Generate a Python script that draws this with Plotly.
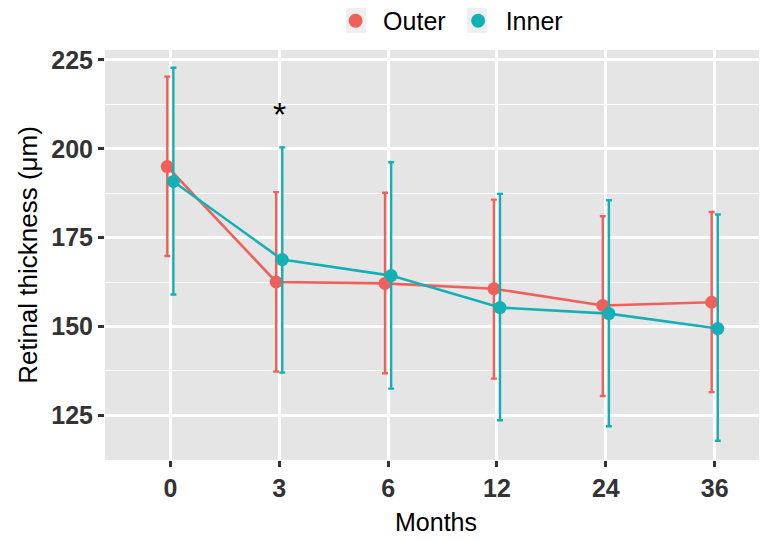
import plotly.graph_objects as go

months = ["0", "3", "6", "12", "24", "36"]
outer_mean = [195.0, 162.5, 162.1, 160.6, 155.9, 156.8]
outer_upper = [220.3, 187.8, 187.6, 185.7, 181.0, 182.2]
outer_lower = [169.8, 137.3, 136.8, 135.3, 130.4, 131.5]
inner_mean = [190.8, 168.8, 164.3, 155.3, 153.6, 149.4]
inner_upper = [222.8, 200.4, 196.2, 187.3, 185.5, 181.5]
inner_lower = [159.0, 137.0, 132.5, 123.6, 121.9, 117.8]
sig_month = "3"
sig_label = "*"
sig_y = 210.5

RED = "#F0605A"
TEAL = "#13B1B5"
DODGE = 0.028

# figure geometry (page has an 8px body margin)
W, H = 759, 533
ML, MR, MT, MB = 97, 0, 42, 81
PW, PH = W - ML - MR, H - MT - MB

idx = list(range(len(months)))

def series(name, mean, up, lo, color, off):
    xs = [i + off for i in idx]
    return go.Scatter(
        x=xs, y=mean, name=name, mode="lines+markers", showlegend=False,
        line=dict(color=color, width=2.6),
        marker=dict(color=color, size=13),
        error_y=dict(type="data", symmetric=False,
                     array=[u - m for u, m in zip(up, mean)],
                     arrayminus=[m - l for m, l in zip(mean, lo)],
                     color=color, thickness=2.4, width=3),
    )

fig = go.Figure()
fig.add_trace(series("Outer", outer_mean, outer_upper, outer_lower, RED, -DODGE))
fig.add_trace(series("Inner", inner_mean, inner_upper, inner_lower, TEAL, DODGE))
for name, color in [("Outer", RED), ("Inner", TEAL)]:
    fig.add_trace(go.Scatter(x=[None], y=[None], name=name, mode="markers",
                             marker=dict(color=color, size=14)))

fig.add_annotation(x=months.index(sig_month), y=sig_y, text=sig_label, showarrow=False,
                   font=dict(size=34, color="black", family="Liberation Sans, Arial"), yshift=-3)

# legend key backgrounds (ggplot style), figure px -> paper
for cx in [348, 469]:
    fig.add_shape(type="rect", xref="paper", yref="paper",
                  x0=(cx - 10 - ML) / PW, x1=(cx + 10 - ML) / PW,
                  y0=(MT + PH - 0) / PH, y1=(MT + PH - 25) / PH,
                  fillcolor="#EFEFEF", line=dict(width=0), layer="below")

tick_font = dict(family="Liberation Sans, Arial", size=25, color="#333333", weight="bold")
fig.update_layout(
    width=W, height=H,
    margin=dict(l=ML, r=MR, t=MT, b=MB, autoexpand=False),
    paper_bgcolor="white", plot_bgcolor="#E5E5E5",
    font=dict(family="Liberation Sans, Arial", color="black"),
    showlegend=True,
    legend=dict(orientation="h", xref="paper", yref="paper",
                x=0.337, y=1.127, xanchor="left", yanchor="top",
                font=dict(size=25, color="black"), itemwidth=45,
                bgcolor="rgba(0,0,0,0)"),
    xaxis=dict(range=[-0.6, 5.48], tickmode="array", tickvals=idx, ticktext=months,
               automargin=False,
               showgrid=True, gridcolor="white", gridwidth=2.6, zeroline=False,
               ticks="outside", ticklen=6, tickwidth=2.5, tickcolor="#333333",
               tickfont=tick_font,
               title=dict(text="Months", font=dict(size=25, color="black"), standoff=12)),
    yaxis=dict(range=[112.4, 227.8], tickmode="array", tickvals=[125, 150, 175, 200, 225],
               automargin=False,
               showgrid=True, gridcolor="white", gridwidth=2.6, zeroline=False,
               ticks="outside", ticklen=6, tickwidth=2.5, tickcolor="#333333",
               tickfont=tick_font,
               minor=dict(tickmode="array", tickvals=[137.5, 162.5, 187.5, 212.5],
                          showgrid=True, gridcolor="white", gridwidth=1.3, ticks=""),
               title=dict(text="Retinal thickness (μm)", font=dict(size=26, color="black"), standoff=6)),
)

fig.write_html("out.html")
